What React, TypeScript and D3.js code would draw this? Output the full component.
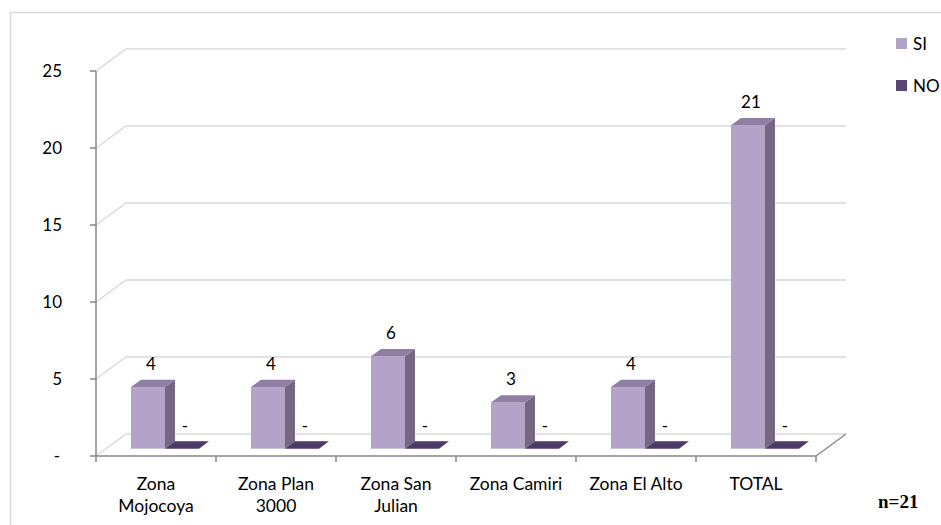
import { scaleBand, scaleLinear } from 'd3';

const categories = [
  ['Zona', 'Mojocoya'],
  ['Zona Plan', '3000'],
  ['Zona San', 'Julian'],
  ['Zona Camiri'],
  ['Zona El Alto'],
  ['TOTAL'],
];
const series = ['SI', 'NO'];
const siValues = [4, 4, 6, 3, 4, 21];
const noValues = [0, 0, 0, 0, 0, 0];
const yTicks = [0, 5, 10, 15, 20, 25];

const W = 941;
const H = 525;
const FONT = 'Lato, "Open Sans", sans-serif';

const colors = {
  SI: { front: '#b3a3c8', side: '#756784', top: '#8f80a3' },
  NO: { front: '#5a4675', side: '#3f2e55', top: '#4d3a66' },
};

const fmt = (v: number) => (v === 0 ? '-' : String(v));

const App = () => {
  // front plane of the 3D box
  const x = scaleBand<number>()
    .domain(categories.map((_, i) => i))
    .range([96, 816])
    .padding(0);
  const y = scaleLinear().domain([0, 25]).range([456, 71]);
  // depth of the floor / walls
  const depth = { dx: 30, dy: -22 };
  // bars sit in the middle third of the depth
  const shift = { dx: depth.dx / 3, dy: depth.dy / 3 };
  const bw = x.bandwidth();
  const x1 = scaleBand<string>().domain(series).range([bw * 0.208, bw * 0.775]);

  const data = categories.map((c, i) => ({
    idx: i,
    label: c,
    values: [
      { key: 'SI', value: siValues[i] },
      { key: 'NO', value: noValues[i] },
    ],
  }));

  const x0 = x(0)!;
  const xEnd = x0 + bw * categories.length;

  return (
    <div style={{ position: 'absolute', left: 0, top: 0 }}>
      <svg width={W} height={H} style={{ display: 'block', background: '#fff' }}>
        {/* chart frame */}
        <rect x={10.5} y={12.5} width={W + 10} height={H + 10} fill="none" stroke="#d9d9d9" strokeWidth={1.5} />

        {/* back wall grid lines with side wall diagonals */}
        {yTicks.map((t) => (
          <polyline
            key={'g' + t}
            points={`${x0},${y(t)} ${x0 + depth.dx},${y(t) + depth.dy} ${xEnd + depth.dx},${y(t) + depth.dy}`}
            fill="none"
            stroke="#d9d9d9"
            strokeWidth={1.5}
          />
        ))}
        {/* floor right edge */}
        <line
          x1={xEnd}
          y1={y(0)}
          x2={xEnd + depth.dx}
          y2={y(0) + depth.dy}
          stroke="#8c8c8c"
          strokeWidth={1.5}
        />

        {/* bars */}
        {data.map((d) =>
          d.values.map((s) => {
            const c = colors[s.key as 'SI' | 'NO'];
            const bx = x(d.idx)! + x1(s.key)! + shift.dx;
            const bwid = x1.bandwidth();
            const bottom = y(0) + shift.dy;
            const top = y(s.value) + shift.dy;
            const ddx = shift.dx;
            const ddy = shift.dy;
            return (
              <g key={d.idx + s.key}>
                {s.value > 0 && (
                  <>
                    <rect x={bx} y={top} width={bwid} height={bottom - top} fill={c.front} />
                    <polygon
                      points={`${bx + bwid},${top} ${bx + bwid + ddx},${top + ddy} ${bx + bwid + ddx},${bottom + ddy} ${bx + bwid},${bottom}`}
                      fill={c.side}
                    />
                  </>
                )}
                <polygon
                  points={`${bx},${top} ${bx + ddx},${top + ddy} ${bx + bwid + ddx},${top + ddy} ${bx + bwid},${top}`}
                  fill={c.top}
                />
                <text
                  x={bx + bwid / 2 + 3}
                  y={top - 17}
                  textAnchor="middle"
                  fontFamily={FONT}
                  fontSize={17}
                  fill="#000"
                >
                  {fmt(s.value)}
                </text>
              </g>
            );
          })
        )}

        {/* y axis */}
        <line x1={x0} y1={y(25)} x2={x0} y2={y(0)} stroke="#868686" strokeWidth={1.5} />
        {yTicks.map((t) => (
          <g key={'t' + t}>
            <line x1={x0 - 6} y1={y(t)} x2={x0} y2={y(t)} stroke="#868686" strokeWidth={1.5} />
            <text
              x={t === 0 ? 60 : 62}
              y={y(t) + 6}
              textAnchor="end"
              fontFamily={FONT}
              fontSize={17}
              fill="#000"
            >
              {fmt(t)}
            </text>
          </g>
        ))}

        {/* x axis */}
        <line x1={x0} y1={y(0)} x2={xEnd} y2={y(0)} stroke="#868686" strokeWidth={1.5} />
        {[-1, ...categories.map((_, i) => i)].map((i) => (
          <line
            key={'xt' + i}
            x1={x0 + bw * (i + 1)}
            y1={y(0)}
            x2={x0 + bw * (i + 1)}
            y2={y(0) + 6}
            stroke="#868686"
            strokeWidth={1.5}
          />
        ))}
        {data.map((d) => (
          <text
            key={'xl' + d.idx}
            x={x(d.idx)! + bw / 2}
            y={490}
            textAnchor="middle"
            fontFamily={FONT}
            fontSize={17.5}
            fill="#000"
          >
            {d.label.map((l, j) => (
              <tspan key={j} x={x(d.idx)! + bw / 2} dy={j === 0 ? 0 : 22}>
                {l}
              </tspan>
            ))}
          </text>
        ))}

        {/* legend */}
        {series.map((s, i) => (
          <g key={'lg' + s} transform={`translate(896, ${38 + i * 42})`}>
            <rect width={11} height={11} fill={colors[s as 'SI' | 'NO'].front} />
            <text x={17} y={11.5} fontFamily={FONT} fontSize={17} fill="#000">
              {s}
            </text>
          </g>
        ))}

        {/* sample size */}
        <text x={878} y={508} fontFamily='"Liberation Serif", "DejaVu Serif", serif' fontWeight="bold" fontSize={19} fill="#000">
          n=21
        </text>
      </svg>
    </div>
  );
};

export default App;
